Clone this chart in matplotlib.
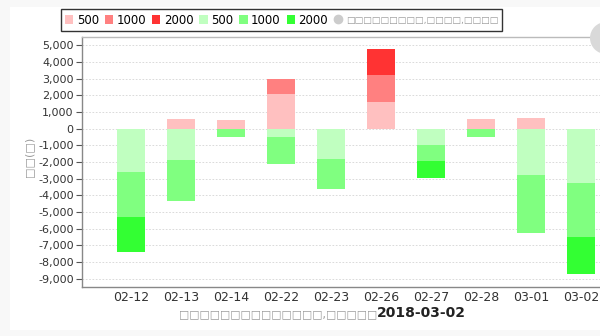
import matplotlib
matplotlib.use('Agg')
import matplotlib.pyplot as plt
from matplotlib.patches import Patch, Rectangle, Ellipse
from matplotlib.lines import Line2D
from matplotlib.ticker import FuncFormatter, MultipleLocator
import numpy as np

### Data
dates = ['02-12', '02-13', '02-14', '02-22', '02-23', '02-26', '02-27', '02-28', '03-01', '03-02']
buy_500 = [0, 575, 515, 2063, 0, 1607, 0, 556, 635, 0]
buy_1000 = [0, 0, 0, 893, 0, 1587, 0, 0, 0, 0]
buy_2000 = [0, 0, 0, 0, 0, 1587, 0, 0, 0, 0]
sell_500 = [-2620, -1865, 0, -476, -1806, 0, -972, 0, -2798, -3234]
sell_1000 = [-2680, -2460, -476, -1667, -1805, 0, -992, -476, -3433, -3254]
sell_2000 = [-2120, 0, 0, 0, 0, 0, -992, 0, 0, -2222]
legend_labels = ['500', '1000', '2000', '500', '1000', '2000']
box = '\u25a1'
extra_label = box * 9 + ',' + box * 4 + ',' + box * 4
ylabel_text = box * 2 + '(' + box + ')'
xlabel_text = box * 14 + ',' + box * 5
xlabel_date = '2018-03-02'

buy_colors = ['#FFC0C0', '#FF8080', '#FF3333']
sell_colors = ['#C0FFC0', '#80FF80', '#33FF33']

W, H = 600, 336
fig = plt.figure(figsize=(W / 100, H / 100), dpi=100)
fig.patch.set_facecolor('#F8F8F8')
fig.add_artist(Rectangle((10 / W, 1 - 330 / H), 590 / W, 323 / H, transform=fig.transFigure,
                         facecolor='white', edgecolor='none', zorder=0))

# axes placed in pixel terms: left 82, right 600, top 37, bottom 287
ax = fig.add_axes([82 / W, 1 - 287 / H, 518 / W, 250 / H])
ax.set_facecolor('white')

x = np.arange(len(dates))
bw = 0.56

# positive stacks
bottom = np.zeros(len(dates))
for vals, c in zip([buy_500, buy_1000, buy_2000], buy_colors):
    v = np.array(vals, dtype=float)
    ax.bar(x, v, bw, bottom=bottom, color=c, linewidth=0, zorder=3)
    bottom += v

# negative stacks
bottom = np.zeros(len(dates))
for vals, c in zip([sell_500, sell_1000, sell_2000], sell_colors):
    v = np.array(vals, dtype=float)
    ax.bar(x, v, bw, bottom=bottom, color=c, linewidth=0, zorder=3)
    bottom += v

ax.set_xlim(-0.98, 9.38)
ax.set_ylim(-9500, 5500)
ax.yaxis.set_major_locator(MultipleLocator(1000))
ax.yaxis.set_major_formatter(FuncFormatter(lambda v, p: f'{int(v):,}'))
ax.set_xticks(x)
ax.set_xticklabels(dates, fontsize=9)
ax.tick_params(axis='x', length=0, pad=3, colors='#333333')
ax.tick_params(axis='y', length=4, width=0.8, pad=2, labelsize=8, colors='#555555', labelcolor='#333333')
ax.grid(axis='y', color='#D4D4D4', linestyle=(0, (2, 2)), linewidth=0.6, zorder=0)

for s in ['left', 'bottom']:
    ax.spines[s].set_color('#888888')
    ax.spines[s].set_linewidth(1.0)
ax.spines['top'].set_color('#BBBBBB')
ax.spines['top'].set_linewidth(1.0)
ax.spines['right'].set_visible(False)

# y label and x label
fig.text(29 / W, 1 - 157 / H, ylabel_text, rotation=90, ha='center', va='center',
         fontsize=8, color='#999999')
fig.text(377 / W, 1 - 314 / H, xlabel_text, ha='right', va='center', fontsize=7.8, color='#999999')
fig.text(377 / W, 1 - 313 / H, xlabel_date, ha='left', va='center', fontsize=10,
         fontweight='bold', color='#222222')

# legend
handles = [Patch(facecolor=c, edgecolor='none') for c in buy_colors + sell_colors]
handles.append(Line2D([], [], marker='o', linestyle='none', color='#CCCCCC', markersize=6))
leg = fig.legend(handles, legend_labels + [extra_label], loc='center',
                 bbox_to_anchor=(281.5 / W, 1 - 20 / H), ncol=7, fontsize=8.5,
                 frameon=True, fancybox=False, handlelength=0.7, handleheight=0.7,
                 handletextpad=0.3, columnspacing=0.5, borderpad=0.35, borderaxespad=0)
leg.get_frame().set_edgecolor('black')
leg.get_frame().set_linewidth(1.0)
leg.get_texts()[-1].set_color('#999999')
leg.get_texts()[-1].set_fontsize(6.6)

# partial gray circle at top right corner
fig.add_artist(Ellipse((606 / W, 1 - 38 / H), 32 / W, 32 / H, transform=fig.transFigure,
                       facecolor='#D9D9D9', edgecolor='none', zorder=5))

fig.savefig('out.png', dpi=100, facecolor=fig.get_facecolor())
